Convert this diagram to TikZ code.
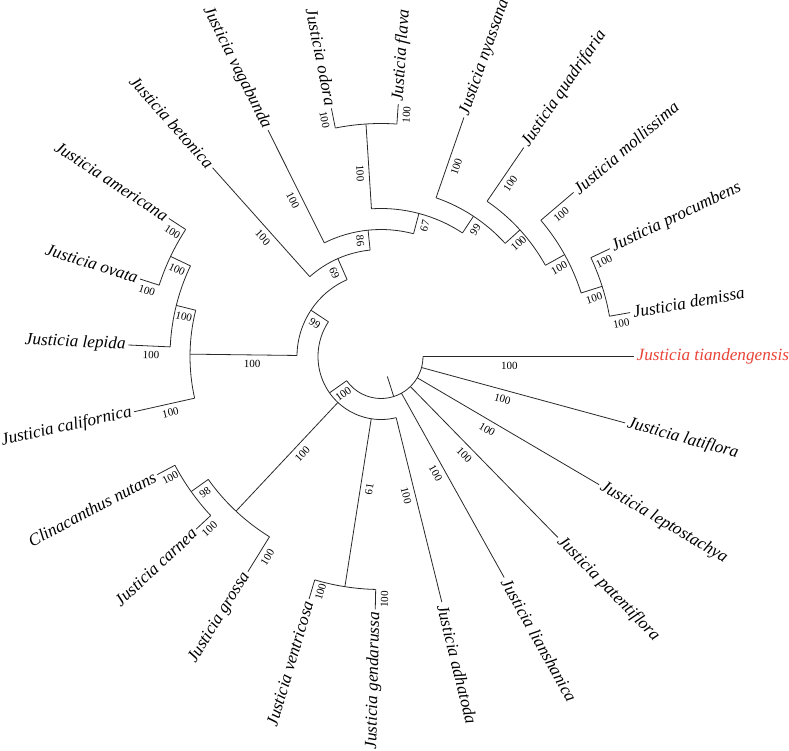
\documentclass[tikz,border=0pt]{standalone}
\usepackage{fontspec}
\setmainfont{Liberation Serif}
\definecolor{redlab}{RGB}{232,68,56}
\definecolor{linecol}{RGB}{40,40,40}
% angle = clockwise screen degrees from the right
\newcommand{\trArc}[3]{\draw[br] ({-#1}:#3) arc[start angle={-#1}, end angle={-#2}, radius=#3];}
\newcommand{\trRad}[3]{\draw[br] ({-#1}:#2) -- ({-#1}:#3);}
\newcommand{\trBR}[5]{\path ({-#2}:{#3+0.4*(#4-#3)+2}) ++({-#2-90}:9) node[bs,rotate={-#2}] (#1) {#5};}
\newcommand{\trBL}[5]{\path ({-#2}:{#3+0.4*(#4-#3)+2}) ++({90-#2}:9) node[bs,rotate={180-#2}] (#1) {#5};}
\newcommand{\trLeafR}[5]{\coordinate (#1s) at ({-#2}:#3);
  \node[leaf,anchor=west,rotate={-#2},#5] (#1) at ({-#2}:253) {#4};
  \draw[br] (#1s) -- (#1.west);
  \trBR{#1b}{#2}{#3}{253}{100}}
\newcommand{\trLeafL}[5]{\coordinate (#1s) at ({-#2}:#3);
  \node[leaf,anchor=east,rotate={180-#2},#5] (#1) at ({-#2}:253) {#4};
  \draw[br] (#1s) -- (#1.east);
  \trBL{#1b}{#2}{#3}{253}{100}}
\begin{document}
\begin{tikzpicture}[x=1pt,y=1pt,
  br/.style={draw=linecol,line width=0.8pt},
  leaf/.style={font=\fontsize{17.2}{20}\selectfont\itshape,inner sep=2.5pt,text=black},
  tgt/.style={text=redlab},
  plain/.style={},
  bs/.style={font=\fontsize{11}{12}\selectfont,inner sep=0pt}]
\useasboundingbox (-381,-393.5) rectangle (408,356.5);

% ---- leaves ----
\trLeafR{t0}{0}{42}{Justicia tiandengensis}{tgt}
\trLeafR{t1}{15.217}{42}{Justicia latiflora}{plain}
\trLeafR{t2}{30.435}{42}{Justicia leptostachya}{plain}
\trLeafR{t3}{45.652}{42}{Justicia patentiflora}{plain}
\trLeafR{t4}{60.870}{42}{Justicia lianshanica}{plain}
\trLeafR{t5}{76.087}{63}{Justicia adhatoda}{plain}
\trLeafL{t6}{91.304}{233}{Justicia gendarussa}{plain}
\trLeafL{t7}{106.522}{233}{Justicia ventricosa}{plain}
\trLeafL{t8}{121.739}{212}{Justicia grossa}{plain}
\trLeafL{t9}{136.957}{233}{Justicia carnea}{plain}
\trLeafL{t10}{152.174}{233}{Clinacanthus nutans}{plain}
\trLeafL{t11}{167.391}{191}{Justicia californica}{plain}
\trLeafL{t12}{182.609}{211}{Justicia lepida}{plain}
\trLeafL{t13}{197.826}{233}{Justicia ovata}{plain}
\trLeafL{t14}{213.043}{233}{Justicia americana}{plain}
\trLeafL{t15}{228.261}{107}{Justicia betonica}{plain}
\trLeafL{t16}{243.478}{127}{Justicia vagabunda}{plain}
\trLeafL{t17}{258.696}{233}{Justicia odora}{plain}
\trLeafR{t18}{273.913}{233}{Justicia flava}{plain}
\trLeafR{t19}{289.130}{168}{Justicia nyassana}{plain}
\trLeafR{t20}{304.348}{188}{Justicia quadrifaria}{plain}
\trLeafR{t21}{319.565}{210}{Justicia mollissima}{plain}
\trLeafR{t22}{334.783}{232}{Justicia procumbens}{plain}
\trLeafR{t23}{350}{232}{Justicia demissa}{plain}

% ---- arcs of internal nodes ----
\trArc{0}{144.773}{42}        % root
\trArc{76.087}{213.460}{63}   % A
\trArc{180.707}{246.213}{84}  % B
\trArc{228.261}{264.164}{107} % C
\trArc{243.478}{284.850}{127} % D
\trArc{266.304}{303.397}{148} % E
\trArc{258.696}{273.913}{233} % F
\trArc{289.130}{317.663}{168} % G
\trArc{304.348}{330.978}{188} % H
\trArc{319.565}{342.391}{210} % I
\trArc{334.783}{350}{232}     % J
\trArc{91.304}{106.522}{233}  % K
\trArc{167.391}{194.022}{191} % L
\trArc{182.609}{205.435}{211} % M
\trArc{197.826}{213.043}{233} % N
\trArc{136.957}{152.174}{233} % P
\trArc{121.739}{144.565}{212} % Q

% ---- internal branches ----
\trRad{72.387}{21}{42}
\trRad{144.773}{42}{63}  \trBL{bA}{144.773}{42}{63}{100}
\trRad{213.460}{63}{84}  \trBL{bB}{213.460}{63}{84}{99}
\trRad{246.213}{84}{107} \trBL{bC}{246.213}{84}{107}{69}
\trRad{264.164}{107}{127} \trBL{bD}{264.164}{107}{127}{86}
\trRad{284.850}{127}{148} \trBR{bE}{284.850}{127}{148}{67}
\trRad{266.304}{148}{233} \trBL{bF}{266.304}{148}{233}{100}
\trRad{303.397}{148}{168} \trBR{bG}{303.397}{148}{168}{99}
\trRad{317.663}{168}{188} \trBR{bH}{317.663}{168}{188}{100}
\trRad{330.978}{188}{210} \trBR{bI}{330.978}{188}{210}{100}
\trRad{342.391}{210}{232} \trBR{bJ}{342.391}{210}{232}{100}
\trRad{98.913}{63}{233}  \trBL{bK}{98.913}{63}{233}{61}
\trRad{180.707}{84}{191} \trBL{bL}{180.707}{84}{191}{100}
\trRad{194.022}{191}{211} \trBL{bM}{194.022}{191}{211}{100}
\trRad{205.435}{211}{233} \trBL{bN}{205.435}{211}{233}{100}
\trRad{144.565}{212}{233} \trBL{bP}{144.565}{212}{233}{98}
\trRad{133.152}{63}{212} \trBL{bQ}{133.152}{63}{212}{100}
\end{tikzpicture}
\end{document}
